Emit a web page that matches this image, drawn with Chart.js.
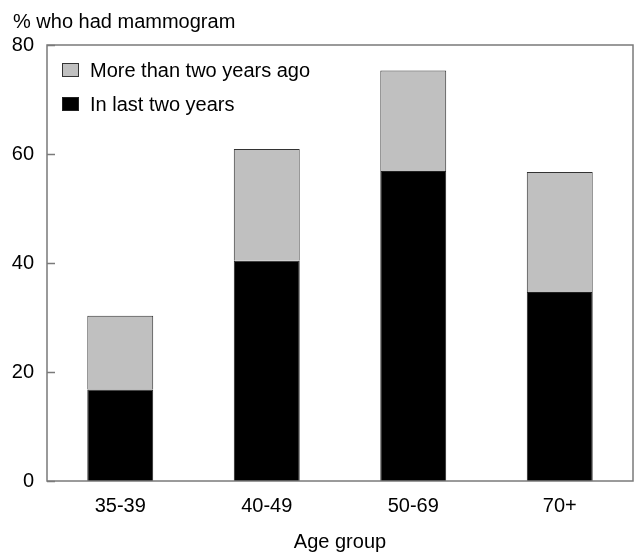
<!DOCTYPE html>
<html lang="en">
<head>
  <meta charset="UTF-8">
  <title>Mammogram by age group</title>
  <script src="https://cdn.jsdelivr.net/npm/chart.js"></script>
  <style>
    html, body { margin: 0; padding: 0; background: #fff; }
    #wrap { width: 634px; height: 554px; }
  </style>
</head>
<body>
  <div id="wrap"><canvas id="mammoChart"></canvas></div>
  <script>
    // data
    const ageGroups = ['35-39', '40-49', '50-69', '70+'];
    const lastTwoYears = [16.8, 40.4, 56.9, 34.7];
    const moreThanTwoYears = [13.5, 20.5, 18.4, 22.0];
    const yTicks = [0, 20, 40, 60, 80];

    const fontFamily = '"Liberation Sans", Arial, Helvetica, sans-serif';
    const axisGrey = '#7a7a7a';

    // frame round the plot area, inward y ticks, legend and the y title
    const framePlugin = {
      id: 'frame',
      afterDatasetsDraw(chart) {
        const { ctx, chartArea: a } = chart;
        const y = chart.scales.y;
        ctx.save();
        ctx.strokeStyle = axisGrey;
        ctx.lineWidth = 1.5;
        ctx.strokeRect(a.left, a.top, a.right - a.left, a.bottom - a.top);
        yTicks.forEach(v => {
          const py = Math.round(y.getPixelForValue(v)) + 0.5;
          ctx.beginPath();
          ctx.moveTo(a.left, py);
          ctx.lineTo(a.left + 8, py);
          ctx.stroke();
        });
        ctx.restore();
      },
      afterDraw(chart) {
        const { ctx, chartArea: a } = chart;
        ctx.save();
        ctx.fillStyle = '#000';
        ctx.font = '20px ' + fontFamily;
        ctx.textBaseline = 'alphabetic';
        ctx.textAlign = 'left';
        ctx.fillText('% who had mammogram', 13, 28);

        // legend, top series first
        const items = chart.data.datasets.slice().reverse();
        ctx.textBaseline = 'middle';
        items.forEach((ds, i) => {
          const cy = a.top + 25 + i * 34;
          const bx = a.left + 15;
          ctx.fillStyle = ds.backgroundColor;
          ctx.fillRect(bx, cy - 7, 17, 14);
          ctx.strokeStyle = ds.borderColor;
          ctx.lineWidth = 1;
          ctx.strokeRect(bx + 0.5, cy - 6.5, 16, 13);
          ctx.fillStyle = '#000';
          ctx.fillText(ds.label, bx + 28, cy + 1);
        });
        ctx.restore();
      }
    };

    const ctx = document.getElementById('mammoChart').getContext('2d');
    new Chart(ctx, {
      type: 'bar',
      data: {
        labels: ageGroups,
        datasets: [
          {
            label: 'In last two years',
            data: lastTwoYears,
            backgroundColor: '#000000',
            borderColor: '#222222',
            borderWidth: 1
          },
          {
            label: 'More than two years ago',
            data: moreThanTwoYears,
            backgroundColor: '#c0c0c0',
            borderColor: '#333333',
            borderWidth: 1
          }
        ]
      },
      options: {
        responsive: true,
        maintainAspectRatio: false,
        animation: false,
        layout: { padding: { top: 45, right: 1, left: 0, bottom: 0 } },
        datasets: {
          bar: { categoryPercentage: 1.0, barPercentage: 0.45 }
        },
        scales: {
          x: {
            stacked: true,
            grid: { display: false, drawTicks: false },
            border: { display: false },
            ticks: { color: '#000', font: { family: fontFamily, size: 20 }, padding: 13 },
            title: {
              display: true,
              text: 'Age group',
              color: '#000',
              font: { family: fontFamily, size: 20 },
              padding: { top: 12, bottom: 0 }
            },
            afterFit(scale) { scale.height = 73; }
          },
          y: {
            stacked: true,
            min: 0,
            max: 80,
            grid: { display: false, drawTicks: false },
            border: { display: false },
            ticks: {
              stepSize: 20,
              color: '#000',
              padding: 13,
              font: { family: fontFamily, size: 20 }
            },
            afterFit(scale) { scale.width = 47; }
          }
        },
        plugins: {
          legend: { display: false },
          tooltip: { enabled: false },
          title: { display: false }
        }
      },
      plugins: [framePlugin]
    });
  </script>
</body>
</html>
